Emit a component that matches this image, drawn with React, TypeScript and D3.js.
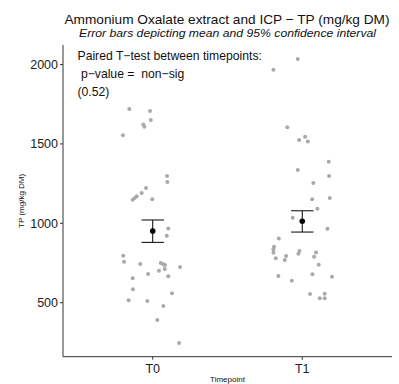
import React from "react";
import * as d3 from "d3";

const categories = ["T0", "T1"];

const t0Values = [1720, 1707, 1650, 1623, 1608, 1554, 1298, 1260, 1222, 1191, 1170, 1159, 1149, 1151, 968, 922, 796, 758, 744, 750, 742, 738, 712, 702, 681, 725, 667, 654, 584, 559, 515, 511, 479, 391, 246];
const t0Jitter = [-0.157, -0.018, -0.013, -0.063, -0.056, -0.199, 0.096, 0.098, -0.045, -0.074, -0.107, -0.12, -0.134, -0.003, 0.104, 0.094, -0.197, -0.192, -0.083, 0.054, 0.071, 0.082, 0.08, 0.042, -0.031, 0.183, 0.104, -0.134, -0.132, 0.129, -0.161, -0.036, 0.071, 0.031, 0.176];

const t1Values = [2035, 1967, 1605, 1545, 1525, 1516, 1388, 1336, 1298, 1254, 1151, 1159, 1092, 1035, 966, 905, 853, 836, 815, 780, 794, 769, 826, 809, 817, 790, 739, 668, 639, 679, 664, 555, 528, 557, 528];
const t1Jitter = [-0.03, -0.193, -0.1, 0.019, -0.021, 0.037, 0.177, -0.03, 0.179, 0.074, 0.066, 0.184, 0.101, -0.064, 0.168, -0.157, -0.189, -0.193, -0.193, -0.177, -0.108, -0.117, -0.019, -0.026, 0.092, 0.079, 0.11, -0.16, -0.07, 0.068, 0.199, 0.052, 0.117, 0.15, 0.15];

const means = [952, 1013];
const ciLower = [880, 945];
const ciUpper = [1021, 1079];

const yTicks = [500, 1000, 1500, 2000];

const titleText = "Ammonium Oxalate extract and ICP \u2212 TP (mg/kg DM)";
const subtitleText = "Error bars depicting mean and 95% confidence interval";
const annotationLines = ["Paired T\u2212test between timepoints:", " p\u2212value =  non\u2212sig", "(0.52)"];

const W = 399;
const H = 384;
const left = 63;
const right = 392;
const top = 45;
const bottom = 356.7;

export default function App() {
  const x = d3.scaleLinear().domain([0.4, 2.6]).range([left, right]);
  const y = d3.scaleLinear().domain([160, 2123]).range([bottom, top]);
  const font = "'Liberation Sans', Arial, sans-serif";
  const groups = [
    { values: t0Values, jitter: t0Jitter },
    { values: t1Values, jitter: t1Jitter },
  ];
  const ebHalf = 0.075;

  return (
    <svg width={W} height={H} style={{ position: "absolute", left: 0, top: 0, background: "#fff" }} fontFamily={font}>
      <text x={(left + right) / 2 - 0.5} y={24} textAnchor="middle" fontSize={13.5} fill="#111" textLength={325} lengthAdjust="spacingAndGlyphs">{titleText}</text>
      <text x={(left + right) / 2} y={37.3} textAnchor="middle" fontSize={10.8} fontStyle="italic" fill="#111" textLength={297} lengthAdjust="spacingAndGlyphs">{subtitleText}</text>

      {groups.map((g, gi) =>
        g.values.map((v, i) => (
          <circle key={`p${gi}-${i}`} cx={x(gi + 1 + g.jitter[i])} cy={y(v)} r={2} fill="#a9a9a9" />
        ))
      )}

      {categories.map((c, i) => {
        const cx = x(i + 1);
        const hw = x(i + 1 + ebHalf) - cx;
        return (
          <g key={`eb${c}`} stroke="#000" strokeWidth={1}>
            <line x1={cx} x2={cx} y1={y(ciLower[i])} y2={y(ciUpper[i])} />
            <line x1={cx - hw} x2={cx + hw} y1={y(ciLower[i])} y2={y(ciLower[i])} />
            <line x1={cx - hw} x2={cx + hw} y1={y(ciUpper[i])} y2={y(ciUpper[i])} />
            <circle cx={cx} cy={y(means[i])} r={2.8} fill="#000" stroke="none" />
          </g>
        );
      })}

      {/* axes */}
      <line x1={left} x2={left} y1={top} y2={bottom} stroke="#333" strokeWidth={1} />
      <line x1={left} x2={right} y1={bottom} y2={bottom} stroke="#333" strokeWidth={1} />
      {yTicks.map((t) => (
        <g key={`yt${t}`}>
          <line x1={left - 3} x2={left} y1={y(t)} y2={y(t)} stroke="#333" />
          <text x={left - 5} y={y(t)} dy="0.35em" textAnchor="end" fontSize={12.5} fill="#222">{t}</text>
        </g>
      ))}
      {categories.map((c, i) => (
        <g key={`xt${c}`}>
          <line x1={x(i + 1)} x2={x(i + 1)} y1={bottom} y2={bottom + 3} stroke="#333" />
          <text x={x(i + 1)} y={bottom + 16} textAnchor="middle" fontSize={12.5} fill="#222">{c}</text>
        </g>
      ))}
      <text x={(left + right) / 2} y={382} textAnchor="middle" fontSize={8} fill="#111">Timepoint</text>
      <text transform={`translate(24,${(top + bottom) / 2}) rotate(-90)`} textAnchor="middle" fontSize={8} fill="#111">TP (mg/kg DM)</text>

      {annotationLines.map((l, i) => (
        <text key={`a${i}`} x={77.5} y={60 + i * 17.8} fontSize={12.2} fill="#111" style={{ whiteSpace: "pre" }}>{l}</text>
      ))}
    </svg>
  );
}
